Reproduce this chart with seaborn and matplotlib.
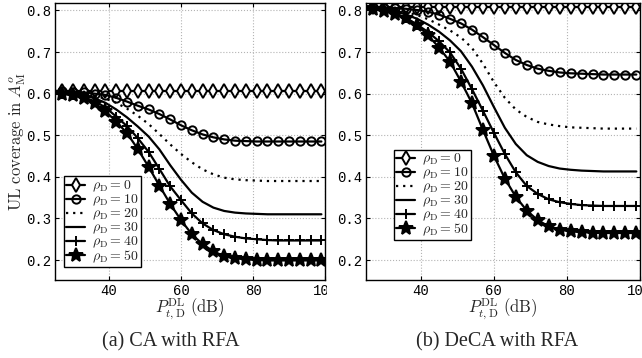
import matplotlib
matplotlib.use('Agg')
import matplotlib.pyplot as plt
from matplotlib.transforms import Bbox, TransformedBbox
import seaborn as sns

sns.set_style('whitegrid')
plt.rcParams['mathtext.fontset'] = 'cm'
plt.rcParams['font.family'] = ['Liberation Mono', 'DejaVu Sans']

# transmit power P_t,D^DL (dB), marker every 3 dB
p_dl = [24, 27, 30, 33, 36, 39, 42, 45, 48, 51, 54, 57, 60,
        63, 66, 69, 72, 75, 78, 81, 84, 87, 90, 93, 96, 99]
rho = [0, 10, 20, 30, 40, 50]

# (a) CA with RFA
ca_0 = [0.607, 0.607, 0.607, 0.607, 0.607, 0.607, 0.607, 0.607, 0.607, 0.607, 0.607, 0.607, 0.607,
        0.607, 0.607, 0.607, 0.607, 0.607, 0.607, 0.607, 0.607, 0.607, 0.607, 0.607, 0.607, 0.607]
ca_10 = [0.606, 0.606, 0.605, 0.603, 0.600, 0.597, 0.590, 0.581, 0.571, 0.562, 0.551, 0.538, 0.524,
         0.512, 0.502, 0.495, 0.490, 0.487, 0.486, 0.485, 0.485, 0.485, 0.485, 0.485, 0.485, 0.485]
ca_20 = [0.606, 0.605, 0.603, 0.600, 0.595, 0.588, 0.578, 0.564, 0.547, 0.527, 0.503, 0.478, 0.455,
         0.435, 0.418, 0.406, 0.398, 0.394, 0.392, 0.391, 0.390, 0.390, 0.390, 0.390, 0.390, 0.390]
ca_30 = [0.604, 0.603, 0.600, 0.596, 0.589, 0.578, 0.562, 0.543, 0.521, 0.497, 0.466, 0.428, 0.393,
         0.362, 0.340, 0.326, 0.318, 0.314, 0.312, 0.311, 0.310, 0.310, 0.310, 0.310, 0.310, 0.310]
ca_40 = [0.602, 0.600, 0.597, 0.591, 0.582, 0.567, 0.545, 0.522, 0.493, 0.460, 0.419, 0.377, 0.344,
         0.312, 0.288, 0.272, 0.262, 0.256, 0.252, 0.250, 0.248, 0.247, 0.247, 0.247, 0.247, 0.247]
ca_50 = [0.602, 0.600, 0.596, 0.589, 0.577, 0.558, 0.533, 0.505, 0.467, 0.424, 0.379, 0.335, 0.296,
         0.262, 0.238, 0.221, 0.209, 0.204, 0.202, 0.200, 0.199, 0.199, 0.199, 0.199, 0.199, 0.199]

# (b) DeCA with RFA
de_0 = [0.808, 0.808, 0.808, 0.808, 0.808, 0.808, 0.808, 0.808, 0.808, 0.808, 0.808, 0.808, 0.808,
        0.808, 0.808, 0.808, 0.808, 0.808, 0.808, 0.808, 0.808, 0.808, 0.808, 0.808, 0.808, 0.808]
de_10 = [0.808, 0.808, 0.807, 0.806, 0.804, 0.801, 0.797, 0.790, 0.780, 0.769, 0.754, 0.736, 0.717,
         0.698, 0.681, 0.669, 0.660, 0.655, 0.651, 0.649, 0.648, 0.647, 0.646, 0.646, 0.646, 0.646]
de_20 = [0.807, 0.806, 0.804, 0.801, 0.796, 0.789, 0.779, 0.766, 0.752, 0.735, 0.710, 0.672, 0.628,
         0.590, 0.562, 0.544, 0.532, 0.526, 0.522, 0.519, 0.518, 0.517, 0.516, 0.516, 0.516, 0.516]
de_30 = [0.807, 0.806, 0.803, 0.798, 0.790, 0.780, 0.766, 0.749, 0.728, 0.702, 0.665, 0.620, 0.568,
         0.518, 0.479, 0.452, 0.436, 0.426, 0.420, 0.417, 0.415, 0.414, 0.413, 0.413, 0.413, 0.413]
de_40 = [0.806, 0.804, 0.800, 0.793, 0.782, 0.766, 0.748, 0.726, 0.699, 0.660, 0.611, 0.559, 0.506,
         0.455, 0.411, 0.378, 0.359, 0.346, 0.339, 0.335, 0.332, 0.331, 0.330, 0.330, 0.330, 0.330]
de_50 = [0.805, 0.803, 0.799, 0.792, 0.781, 0.765, 0.740, 0.711, 0.677, 0.629, 0.577, 0.513, 0.451,
         0.396, 0.352, 0.319, 0.296, 0.281, 0.273, 0.269, 0.267, 0.266, 0.265, 0.265, 0.265, 0.265]

styles = [
    dict(marker='d', markersize=7, markerfacecolor='white', linestyle='-'),
    dict(marker='o', markersize=6, markerfacecolor='none', linestyle='-'),
    dict(marker=None, linestyle=(0, (1, 2.2))),
    dict(marker=None, linestyle='-'),
    dict(marker='+', markersize=7, linestyle='-'),
    dict(marker='*', markersize=10, linestyle='-'),
]

fig = plt.figure(figsize=(6.42, 3.58), dpi=100)
W, H = 642, 358
ax1 = fig.add_axes([55 / W, 78 / H, 270 / W, 277 / H])
ax2 = fig.add_axes([366 / W, 78 / H, 274 / W, 277 / H])

for ax, series, leg_xy in [(ax1, [ca_0, ca_10, ca_20, ca_30, ca_40, ca_50], (0.033, 0.047)),
                           (ax2, [de_0, de_10, de_20, de_30, de_40, de_50], (0.102, 0.144))]:
    for r, vals, st in zip(rho, series, styles):
        sns.lineplot(x=p_dl, y=vals, ax=ax, color='black', linewidth=1.6,
                     markeredgewidth=1.4, markeredgecolor='black',
                     label=r'$\rho_{\rm D} = %d$' % r, **st)
    ax.set_xlim(25, 100)
    ax.set_ylim(0.152, 0.818)
    ax.set_xticks([40, 60, 80, 100])
    ax.set_yticks([0.2, 0.3, 0.4, 0.5, 0.6, 0.7, 0.8])
    ax.set_yticklabels(['0.2', '0.3', '0.4', '0.5', '0.6', '0.7', '0.8'])
    ax.grid(True, linestyle=':', color='#b4b4b4', linewidth=0.8)
    for s in ax.spines.values():
        s.set_color('black')
        s.set_linewidth(1.0)
    ax.tick_params(direction='in', length=3, width=0.8, labelsize=10, pad=3,
                   bottom=True, left=True, top=True, right=True, colors='black')
    ax.tick_params(axis='x', pad=3)
    ax.set_xlabel(r'$P_{t,\mathrm{D}}^{\mathrm{DL}}\ \mathrm{(dB)}$', fontsize=12)
    ax.xaxis.set_label_coords(0.5, -0.118)
    ax.xaxis.label.set_va('baseline')
    leg = ax.legend(loc='lower left', bbox_to_anchor=leg_xy, fontsize=10,
                    frameon=True, fancybox=False, framealpha=1, edgecolor='black',
                    borderpad=0.15, labelspacing=-0.12, handlelength=1.4,
                    handletextpad=0.5, borderaxespad=0)
    leg.get_frame().set_linewidth(1.0)

ax1.set_ylabel(r'$\mathrm{UL\ coverage\ in}\ A_{\mathrm{M}}^{o}$', fontsize=12)
ax1.yaxis.set_label_coords(-0.137, 0.5)
ax1.yaxis.label.set_va('center')

# the left panel's "100" is cut by the neighbouring panel
clip = TransformedBbox(Bbox.from_extents(0, 0, 327 / W, 1), fig.transFigure)
for lbl in ax1.get_xticklabels():
    lbl.set_clip_on(True)
    lbl.set_clip_box(clip)

fig.text(171 / W, 1 - 342 / H, '(a) CA with RFA', ha='center', va='center',
         fontsize=14.5, family='Liberation Serif')
fig.text(497 / W, 1 - 342 / H, '(b) DeCA with RFA', ha='center', va='center',
         fontsize=14.5, family='Liberation Serif')

fig.savefig('out.png', dpi=100)
